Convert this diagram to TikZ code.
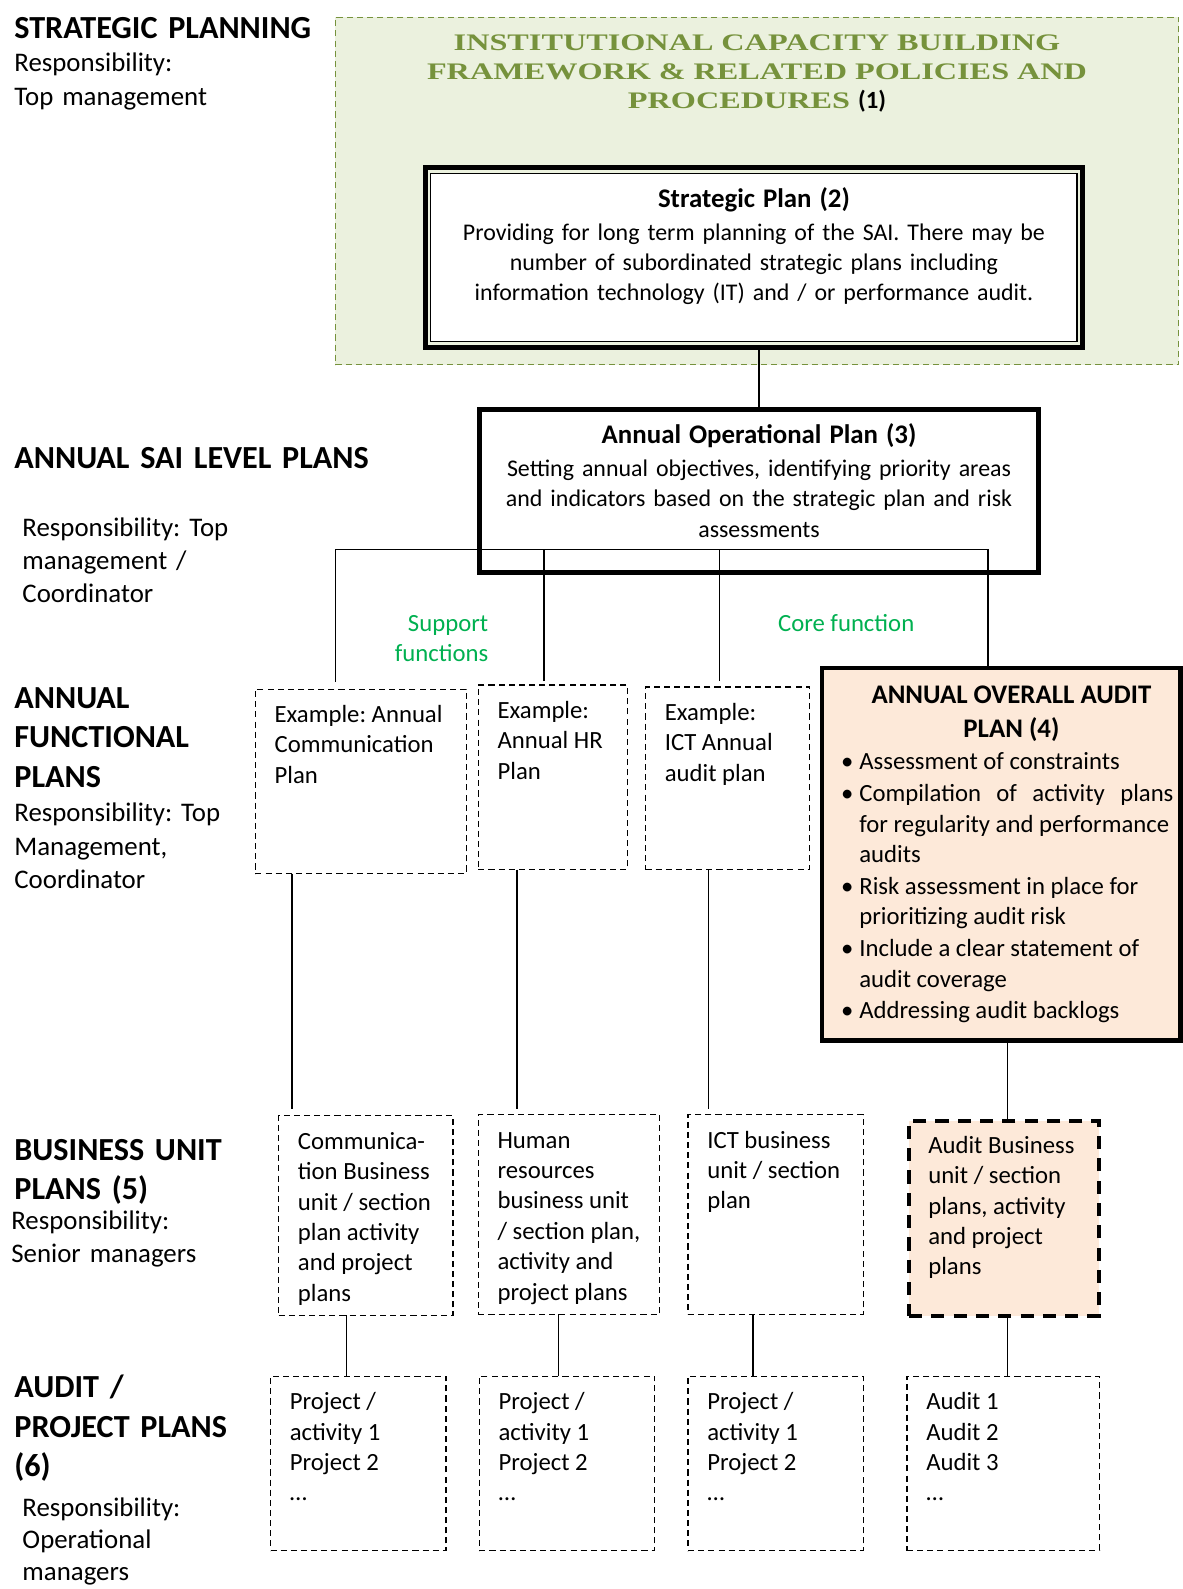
\documentclass[tikz,border=0pt]{standalone}
\usepackage{fontspec}
\setmainfont{Carlito}
\newfontfamily\engrfont[FakeStretch=1.36]{Liberation Serif}
\usetikzlibrary{positioning}
\definecolor{icbgreen}{RGB}{118,146,60}
\definecolor{icbfill}{RGB}{235,241,222}
\definecolor{auditpeach}{RGB}{253,233,217}
\definecolor{labelgreen}{RGB}{0,176,80}

\newcommand{\lvlfont}{\fontsize{31.75}{39}\selectfont\bfseries}
\newcommand{\respfont}{\fontsize{26.5}{33}\selectfont}
\newcommand{\cellfont}{\fontsize{24.4}{30}\selectfont}
\newcommand{\planfont}{\fontsize{23.6}{30}\selectfont}
\newcommand{\headfnt}{\fontsize{26.5}{33}\selectfont\bfseries}
\newcommand{\celltext}[2]{\hspace*{19pt}\parbox[t]{\dimexpr#1-19pt\relax}{\raggedright#2}}
\newcommand{\auditem}[1]{\hangindent=18pt\hangafter=1\noindent\makebox[18pt][l]{\textbullet}#1\par}
\frenchspacing

\begin{document}
\begin{tikzpicture}[x=1pt, y=-1pt,
    lvl/.style={anchor=base west, inner sep=0pt, text width=420pt, align=left, font=\lvlfont},
    resp/.style={anchor=base west, inner sep=0pt, text width=300pt, align=left, font=\respfont},
    note/.style={inner sep=0pt, text=labelgreen, font=\cellfont},
    planbox/.style={draw, fill=white, anchor=north west, outer sep=0pt, inner xsep=10pt, inner ysep=0pt, align=center, font=\planfont},
    dbox/.style={draw, fill=white, anchor=north west, outer sep=0pt, line width=1.2pt, dash pattern=on 6pt off 4pt, inner sep=0pt, text height=33pt, font=\cellfont},
    auditbox/.style={draw, fill=auditpeach, anchor=north west, outer sep=0pt, line width=4.5pt, inner sep=0pt, font=\cellfont},
    link/.style={line width=1.4pt}
  ]
  \useasboundingbox (0,0) rectangle (1167,1568);

  % level labels on the left
  \node[lvl] (stratlbl) at (14,38) {STRATEGIC PLANNING};
  \node[resp] (stratresp) at (14,71) {Responsibility:\\Top management};
  \node[lvl] (sailbl) at (14,462) {ANNUAL SAI LEVEL PLANS};
  \node[resp] (sairesp) at (22,529) {Responsibility: Top\\management /\\Coordinator};
  \node[lvl] (funclbl) at (14,699) {ANNUAL\\FUNCTIONAL\\PLANS};
  \node[resp] (funcresp) at (14,811) {Responsibility: Top\\Management,\\Coordinator};
  \node[lvl] (bulbl) at (14,1145) {BUSINESS UNIT\\PLANS (5)};
  \node[resp] (buresp) at (11,1213) {Responsibility:\\Senior managers};
  \node[lvl] (projlbl) at (14,1379) {AUDIT /\\PROJECT PLANS\\(6)};
  \node[resp, font=\fontsize{26.5}{32}\selectfont] (projresp) at (22,1496) {Responsibility:\\Operational\\managers};

  % framework
  \node[draw=icbgreen, fill=icbfill, line width=1.3pt, dash pattern=on 6pt off 4pt, anchor=north west, outer sep=0pt,
        text width=812pt, inner xsep=10pt, inner ysep=0pt, text height=33pt, text depth=310pt,
        align=center, text=icbgreen, font=\engrfont\bfseries\fontsize{23.4}{28.5}\selectfont] (icb) at (331,17)
    {INSTITUTIONAL CAPACITY BUILDING\\FRAMEWORK \& RELATED POLICIES AND\\PROCEDURES {\rmfamily\cellfont\bfseries\color{black}(1)}};

  % strategic plan
  \node[planbox, line width=1.5pt, text width=618pt, text height=34pt, text depth=132pt] (sp) at (425,171)
    {{\headfnt Strategic Plan (2)}\\[2pt]
     Providing for long term planning of the SAI. There may be\\
     number of subordinated strategic plans including\\
     information technology (IT) and / or performance audit.};
  \draw[line width=5pt] ([xshift=-5.5pt,yshift=5.5pt]sp.north west) rectangle ([xshift=5.5pt,yshift=-5.5pt]sp.south east);

  % annual operational plan
  \node[planbox, line width=4.5pt, text width=532pt, text height=34pt, text depth=127pt] (aop) at (473,404)
    {{\headfnt Annual Operational Plan (3)}\\[2pt]
     Setting annual objectives, identifying priority areas\\
     and indicators based on the strategic plan and risk\\
     assessments};

  \node[note, anchor=base east, align=right] (supp) at (482,653) {Support\\functions};
  \node[note, anchor=base] (core) at (835,623) {Core function};

  % annual functional plans
  \node[dbox, text depth=149pt] (cf) at (252,680) {\celltext{208pt}{Example: Annual\\Communication\\Plan}};
  \node[dbox, text depth=149pt] (hf) at (472,676) {\celltext{147pt}{Example:\\Annual HR\\Plan}};
  \node[dbox, text depth=147pt] (ictf) at (637,678) {\celltext{162pt}{Example:\\ICT Annual\\audit plan}};
  \node[auditbox, text height=35pt, text depth=333pt] (aud) at (811,659)
    {\hspace*{19pt}\parbox[t]{330pt}{\centering\fontsize{26.5}{34}\selectfont\bfseries
      \hspace*{6pt}ANNUAL OVERALL AUDIT\\\hspace*{6pt}PLAN (4)\par
      \mdseries\cellfont\raggedright\parskip=1.5pt
      \auditem{Assessment of constraints}
      \auditem{\makebox[310pt][s]{Compilation of activity plans}\newline for regularity and performance\newline audits}
      \auditem{Risk assessment in place for\newline prioritizing audit risk}
      \auditem{Include a clear statement of\newline audit coverage}
      \auditem{Addressing audit backlogs}}\hspace*{5pt}};

  % business unit plans
  \node[dbox, text depth=164pt] (cbu) at (275,1101) {\celltext{172pt}{Communica-\\tion Business\\unit / section\\plan activity\\and project\\plans}};
  \node[dbox, text depth=164pt] (hbu) at (472,1100) {\celltext{179pt}{Human\\resources\\business unit\\/ section plan,\\activity and\\project plans}};
  \node[dbox, text depth=164pt] (ibu) at (679,1100) {\celltext{173pt}{ICT business\\unit / section\\plan}};
  \node[dbox, fill=auditpeach, line width=4pt, dash pattern=on 13pt off 9pt, text height=32pt, text depth=161pt] (abu) at (897,1106)
    {\celltext{187pt}{Audit Business\\unit / section\\plans, activity\\and project\\plans}};

  % audit / project plans
  \node[dbox, text depth=139pt] (p1) at (267,1358) {\celltext{173pt}{Project /\\activity 1\\Project 2\\…}};
  \node[dbox, text depth=139pt] (p2) at (473,1358) {\celltext{173pt}{Project /\\activity 1\\Project 2\\…}};
  \node[dbox, text depth=139pt] (p3) at (679,1358) {\celltext{173pt}{Project /\\activity 1\\Project 2\\…}};
  \node[dbox, text depth=139pt] (p4) at (895,1358) {\celltext{190pt}{Audit 1\\Audit 2\\Audit 3\\…}};

  % connectors
  \coordinate (spfoot) at ([yshift=-5.5pt]sp.south);
  \draw[link] (aop.north |- spfoot) -- (aop.north);
  \coordinate (bus) at ([yshift=23pt]aop.south);
  \draw[link, shorten <=7pt] ([xshift=79pt]cf.north west) |- (bus) -| ([xshift=164pt]aud.north west);
  \draw[link, shorten <=4pt] ([xshift=65pt]hf.north west) coordinate (hfin) -- (hfin |- bus);
  \draw[link, shorten <=6pt] ([xshift=73pt]ictf.north west) coordinate (ictfin) -- (ictfin |- bus);

  \draw[link, shorten >=7pt] ([xshift=36pt]cf.south west) coordinate (cfout) -- (cfout |- cbu.north);
  \draw[link, shorten >=6pt] ([xshift=38pt]hf.south west) coordinate (hfout) -- (hfout |- hbu.north);
  \draw[link, shorten >=6pt] ([xshift=62pt]ictf.south west) coordinate (ictfout) -- (ictfout |- ibu.north);
  \draw[link] ([xshift=183pt]aud.south west) coordinate (audout) -- (audout |- abu.north);

  \draw[link] ([xshift=67pt]cbu.south west) coordinate (cbuout) -- (cbuout |- p1.north);
  \draw[link] ([xshift=79pt]hbu.south west) coordinate (hbuout) -- (hbuout |- p2.north);
  \draw[link] ([xshift=64pt]ibu.south west) coordinate (ibuout) -- (ibuout |- p3.north);
  \draw[link] ([xshift=97pt]abu.south west) coordinate (abuout) -- (abuout |- p4.north);
\end{tikzpicture}
\end{document}
